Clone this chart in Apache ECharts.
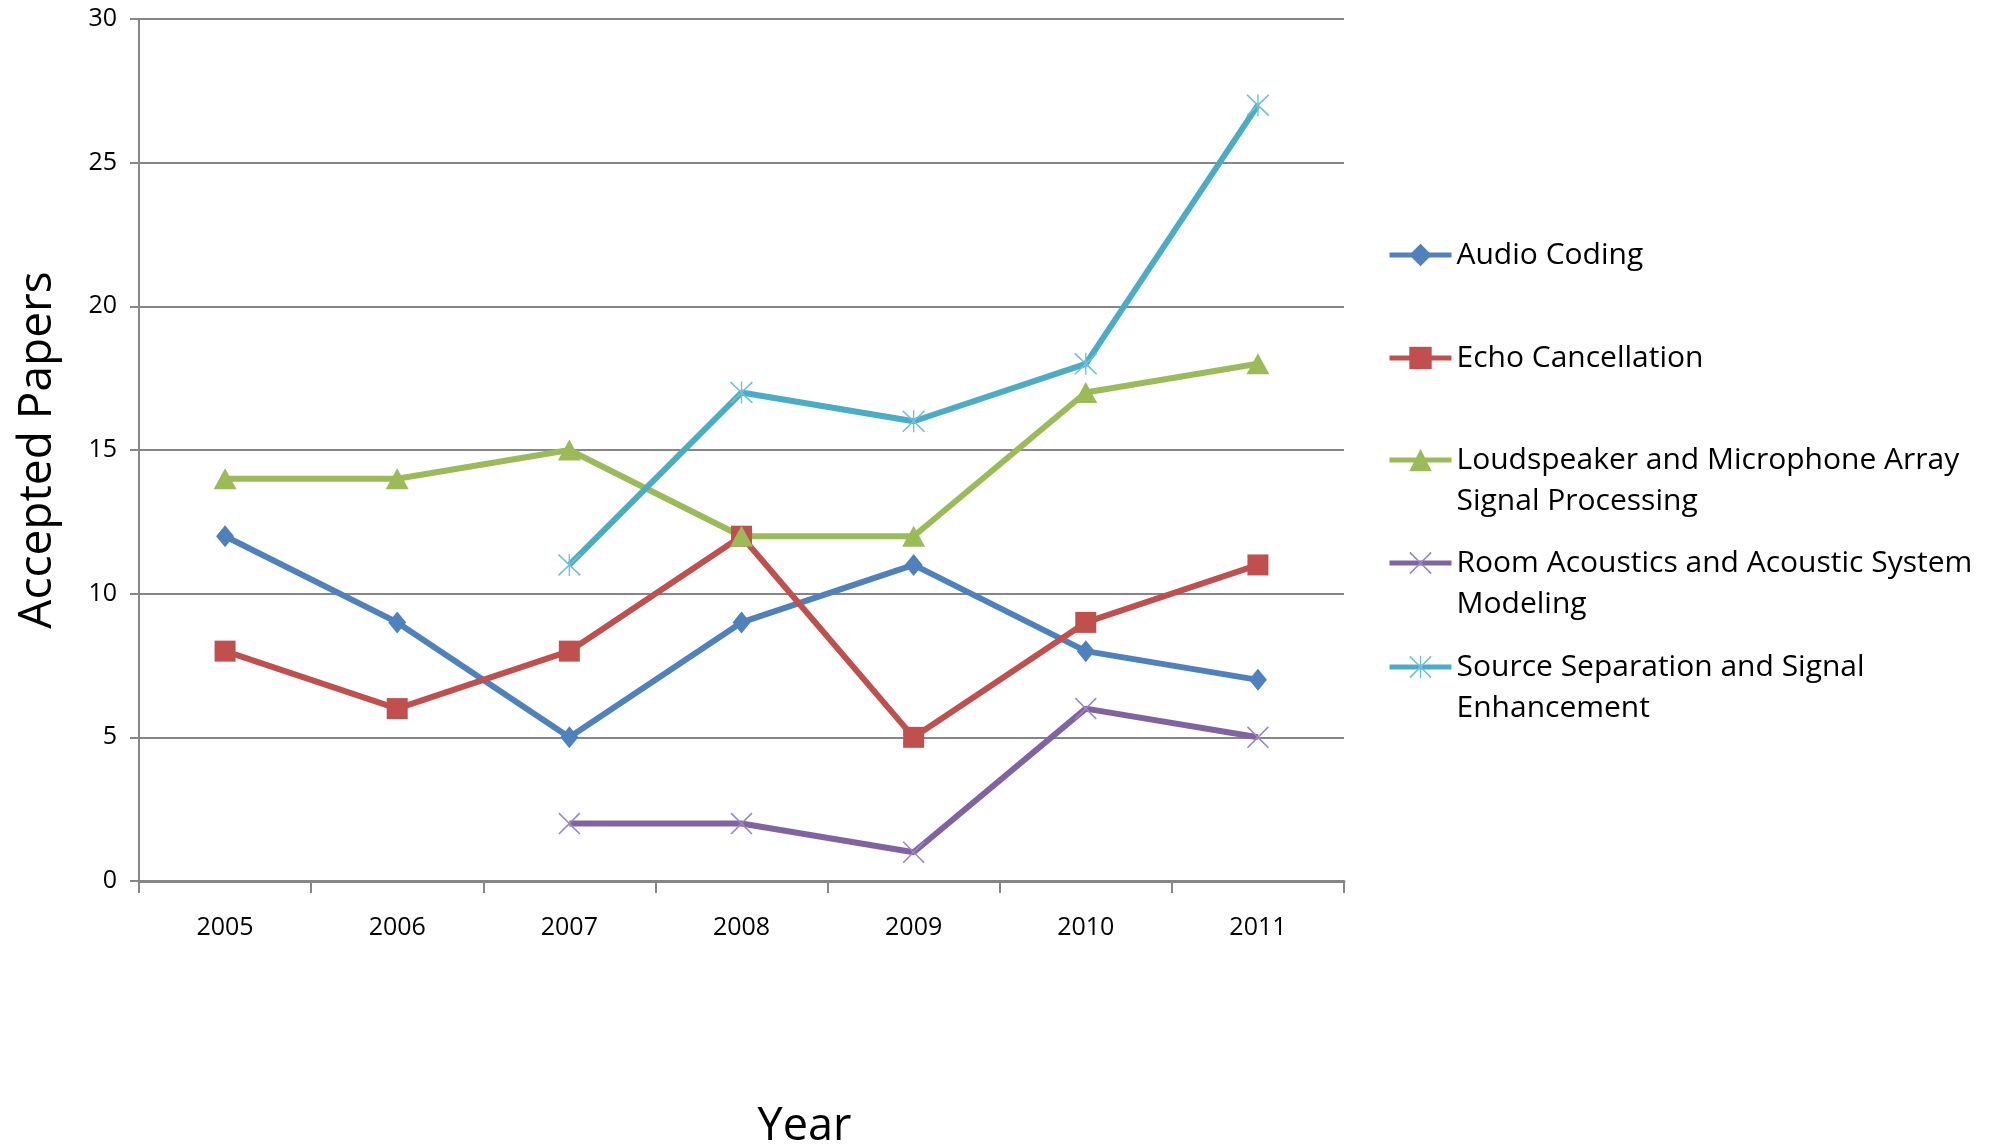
<!DOCTYPE html>
<html>
<head>
<meta charset="utf-8">
<script src="https://cdn.jsdelivr.net/npm/echarts@6/dist/echarts.min.js"></script>
<style>
  html, body { margin: 0; padding: 0; background: #ffffff; }
  #chart { width: 2001px; height: 1145px; }
</style>
</head>
<body>
<div id="chart"></div>
<script>
// Accepted papers per research area, 2005-2011
const years = ['2005', '2006', '2007', '2008', '2009', '2010', '2011'];
const audioCoding = [12, 9, 5, 9, 11, 8, 7];
const echoCancellation = [8, 6, 8, 12, 5, 9, 11];
const loudspeakerArray = [14, 14, 15, 12, 12, 17, 18];
const roomAcoustics = ['-', '-', 2, 2, 1, 6, 5];
const sourceSeparation = ['-', '-', 11, 17, 16, 18, 27];
const yTicks = [0, 5, 10, 15, 20, 25, 30];

const seriesNames = [
  'Audio Coding',
  'Echo Cancellation',
  'Loudspeaker and Microphone Array\nSignal Processing',
  'Room Acoustics and Acoustic System\nModeling',
  'Source Separation and Signal\nEnhancement'
];

// thin stroked marker glyphs built as filled outlines
const crossPath = 'path://M1,0 L10,9 L19,0 L20,1 L11,10 L20,19 L19,20 L10,11 L1,20 L0,19 L9,10 L0,1 Z';
const starPath = 'path://M1,0 L10,9 L19,0 L20,1 L11,10 L20,19 L19,20 L10,11 L1,20 L0,19 L9,10 L0,1 Z ' +
                 'M9.4,0 L10.6,0 L10.6,20 L9.4,20 Z';

const labelFont = 'Open Sans';
const LEGEND_LH = 41;

function makeSeries(name, data, color, symbol, size, symbolColor) {
  return {
    name: name,
    type: 'line',
    data: data,
    symbol: symbol,
    symbolSize: size,
    showAllSymbol: true,
    connectNulls: false,
    lineStyle: { color: color, width: 6 },
    itemStyle: { color: symbolColor || color },
    emphasis: { disabled: true },
    animation: false
  };
}

const series = [
  makeSeries(seriesNames[0], audioCoding, '#4F81BD', 'diamond', [18, 22]),
  makeSeries(seriesNames[1], echoCancellation, '#C0504D', 'rect', [21, 21]),
  makeSeries(seriesNames[2], loudspeakerArray, '#9BBB59', 'triangle', [23, 21]),
  makeSeries(seriesNames[3], roomAcoustics, '#8064A2', crossPath, [22, 22], '#9B86BD'),
  makeSeries(seriesNames[4], sourceSeparation, '#4BACC6', starPath, [23, 22], '#6FC0D6')
];

// one legend block per entry; a blank leading line keeps the first text line level with the icon
const legendCenters = [255, 358, 460, 563, 667];
const legends = seriesNames.map(function (name, i) {
  const twoLine = name.indexOf('\n') >= 0;
  return {
    data: [name],
    orient: 'vertical',
    left: 1387,
    top: legendCenters[i] - (twoLine ? 1.5 * LEGEND_LH : 0.5 * LEGEND_LH),
    padding: 0,
    itemWidth: 62,
    itemHeight: 28,
    selectedMode: false,
    lineStyle: { width: 5 },
    formatter: function (n) { return twoLine ? ' \n' + n : n; },
    textStyle: {
      fontFamily: labelFont,
      fontSize: 30,
      color: '#000000',
      lineHeight: LEGEND_LH
    }
  };
});

const chart = echarts.init(document.getElementById('chart'), null, { renderer: 'canvas' });
chart.setOption({
  backgroundColor: '#ffffff',
  animation: false,
  grid: { left: 139, right: 657, top: 19, bottom: 264, containLabel: false, outerBoundsMode: 'none' },
  legend: legends,
  xAxis: {
    type: 'category',
    data: years,
    boundaryGap: true,
    name: 'Year',
    nameLocation: 'middle',
    nameGap: 224,
    nameTextStyle: {
      fontFamily: 'Open Sans', fontSize: 45, color: '#000000',
      padding: [0, 0, 0, 126]
    },
    axisLine: { lineStyle: { color: '#868686', width: 3 } },
    axisTick: { show: true, length: 12, alignWithLabel: false, lineStyle: { color: '#868686', width: 2 } },
    axisLabel: { fontFamily: labelFont, fontSize: 25, color: '#000000', margin: 34 },
    splitLine: { show: false }
  },
  yAxis: {
    type: 'value',
    min: yTicks[0],
    max: yTicks[yTicks.length - 1],
    interval: 5,
    name: 'Accepted Papers',
    nameLocation: 'middle',
    nameGap: 78,
    nameTextStyle: { fontFamily: 'Open Sans', fontSize: 46, color: '#000000' },
    axisLine: { show: true, lineStyle: { color: '#868686', width: 2 } },
    axisTick: { show: true, length: 9, lineStyle: { color: '#868686', width: 2 } },
    axisLabel: { fontFamily: labelFont, fontSize: 25, color: '#000000', margin: 22 },
    splitLine: { show: true, lineStyle: { color: '#868686', width: 2 } }
  },
  series: series
});
</script>
</body>
</html>
